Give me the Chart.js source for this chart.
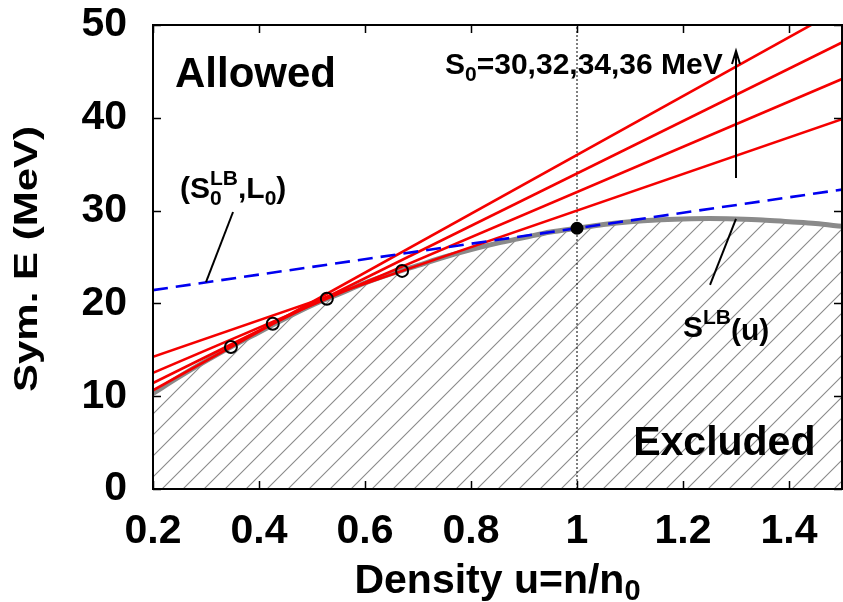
<!DOCTYPE html>
<html>
<head>
<meta charset="utf-8">
<script src="https://cdn.jsdelivr.net/npm/chart.js@4/dist/chart.umd.min.js"></script>
<style>
  html, body { margin: 0; padding: 0; background: #fff; }
  #wrap { width: 843px; height: 602px; position: relative; }
</style>
</head>
<body>
<div id="wrap"><canvas id="c" width="843" height="602"></canvas></div>
<script>
// Lower bound on the symmetry energy S^LB(u) versus density u = n/n0
const density = [0.20, 0.25, 0.30, 0.35, 0.40, 0.45, 0.50, 0.55, 0.60, 0.65, 0.70, 0.75, 0.80, 0.85,
                 0.90, 0.95, 1.00, 1.05, 1.10, 1.15, 1.20, 1.25, 1.30, 1.35, 1.40, 1.45, 1.50];
const symLB   = [10.3, 12.1, 13.8, 15.4, 16.9, 18.4, 19.8, 21.0, 22.2, 23.2, 24.1, 25.0, 25.8, 26.5,
                 27.1, 27.7, 28.1, 28.5, 28.8, 29.0, 29.1, 29.15, 29.1, 29.0, 28.8, 28.6, 28.3];

// Tangent points on S^LB(u) for each assumed S0 (MeV) at saturation density
const S0values = [36, 34, 32, 30];
const tangentU = [0.347, 0.426, 0.528, 0.670];
const tangentS = [15.3, 17.8, 20.5, 23.5];

// Bound at saturation: (S0^LB, L0)
const satU = 1.0;
const S0LB = 28.1;
const L0LB = 25.0;

// Axis ranges and tick labels
const xRange = [0.2, 1.5];
const yRange = [0, 50];
const xTickValues = [0.2, 0.4, 0.6, 0.8, 1.0, 1.2, 1.4];
const xTickLabels = ['0.2', '0.4', '0.6', '0.8', '1', '1.2', '1.4'];
const yTickValues = [0, 10, 20, 30, 40, 50];
const yTickLabels = ['0', '10', '20', '30', '40', '50'];

const FONT = "'Liberation Sans', Arial, sans-serif";

// Straight line through (u1, s1) and (u2, s2), evaluated over the full x range
function lineAcross(u1, s1, u2, s2) {
  const k = (s2 - s1) / (u2 - u1);
  return xRange.map(u => ({ x: u, y: s1 + k * (u - u1) }));
}

// Diagonal hatch used for the excluded region
function hatchPattern() {
  const n = 21;
  const cv = document.createElement('canvas');
  cv.width = n; cv.height = n;
  const g = cv.getContext('2d');
  g.strokeStyle = '#8a8a8a';
  g.lineWidth = 1.1;
  g.beginPath();
  g.moveTo(-2, n + 2); g.lineTo(n + 2, -2);
  g.moveTo(-2, 2); g.lineTo(2, -2);
  g.moveTo(n - 2, n + 2); g.lineTo(n + 2, n - 2);
  g.stroke();
  return document.getElementById('c').getContext('2d').createPattern(cv, 'repeat');
}

const curvePts = density.map((u, i) => ({ x: u, y: symLB[i] }));
const redSets = S0values.map((s0, i) => ({
  data: lineAcross(tangentU[i], tangentS[i], satU, s0),
  borderColor: 'rgb(245,0,0)', borderWidth: 2.6, pointRadius: 0, order: 3
}));

// Draws a run of text pieces; each piece: [text, size, dy, stackUnderPrevious?]
function drawRich(ctx, x, y, pieces) {
  let cx = x;
  let lastStart = x, lastEnd = x;
  pieces.forEach(p => {
    const [txt, size, dy, stack] = p;
    ctx.font = 'bold ' + size + 'px ' + FONT;
    const w = ctx.measureText(txt).width;
    if (stack) {
      ctx.fillText(txt, lastStart, y + dy);
      lastEnd = Math.max(lastEnd, lastStart + w);
      cx = lastEnd;
    } else {
      ctx.fillText(txt, cx, y + dy);
      lastStart = cx;
      cx += w;
      lastEnd = cx;
    }
  });
  return cx - x;
}
function measureRich(ctx, pieces) {
  let total = 0;
  pieces.forEach(p => {
    ctx.font = 'bold ' + p[1] + 'px ' + FONT;
    total += ctx.measureText(p[0]).width;
  });
  return total;
}

// Keep the plot frame exactly where the layout padding puts it
function noLabelOverflow(s) {
  s.paddingTop = 0; s.paddingBottom = 0; s.paddingLeft = 0; s.paddingRight = 0;
}

const overlay = {
  id: 'overlay',
  afterDatasetsDraw(chart) {
    const { ctx, chartArea: a, scales: { x, y } } = chart;
    ctx.save();
    ctx.strokeStyle = '#000';
    // inward tick marks on all four sides
    ctx.lineWidth = 1.5;
    ctx.beginPath();
    xTickValues.forEach(v => {
      const px = Math.round(x.getPixelForValue(v)) + 0.5;
      ctx.moveTo(px, a.bottom); ctx.lineTo(px, a.bottom - 8);
      ctx.moveTo(px, a.top); ctx.lineTo(px, a.top + 8);
    });
    yTickValues.forEach(v => {
      const py = Math.round(y.getPixelForValue(v)) + 0.5;
      ctx.moveTo(a.left, py); ctx.lineTo(a.left + 8, py);
      ctx.moveTo(a.right, py); ctx.lineTo(a.right - 8, py);
    });
    ctx.stroke();
    // frame
    ctx.lineWidth = 2;
    ctx.strokeRect(a.left, a.top, a.right - a.left, a.bottom - a.top);

    const P = (u, s) => [x.getPixelForValue(u), y.getPixelForValue(s)];
    ctx.fillStyle = '#000';
    ctx.textBaseline = 'alphabetic';
    ctx.textAlign = 'left';

    // region labels
    ctx.font = 'bold 42px ' + FONT;
    let [tx, ty] = P(0.2415, 43.3);
    ctx.fillText('Allowed', tx, ty);
    [tx, ty] = P(1.106, 3.66);
    ctx.font = 'bold 41px ' + FONT;
    ctx.fillText('Excluded', tx, ty);

    // S0 family label and arrow
    [tx, ty] = P(0.751, 44.7);
    drawRich(ctx, tx, ty, [['S', 30, 0], ['0', 21, 7], ['=30,32,34,36 MeV', 30, 0]]);
    const [ax, ay0] = P(1.30, 33.5);
    const [, ay1] = P(1.30, 47.2);
    ctx.lineWidth = 2;
    ctx.beginPath();
    ctx.moveTo(ax, ay0); ctx.lineTo(ax, ay1);
    ctx.moveTo(ax - 4, ay1 + 13); ctx.lineTo(ax, ay1); ctx.lineTo(ax + 4, ay1 + 13);
    ctx.stroke();

    // (S0^LB, L0) label with pointer
    [tx, ty] = P(0.251, 31.4);
    drawRich(ctx, tx, ty, [['(S', 30, 0], ['LB', 21, -13], ['0', 21, 7, true], [',L', 30, 0], ['0', 21, 7], [')', 30, 0]]);
    let [p1x, p1y] = P(0.351, 29.85);
    let [p2x, p2y] = P(0.300, 22.3);
    ctx.beginPath(); ctx.moveTo(p1x, p1y); ctx.lineTo(p2x, p2y); ctx.stroke();

    // S^LB(u) label with pointer
    [tx, ty] = P(1.200, 16.4);
    drawRich(ctx, tx, ty, [['S', 30, 0], ['LB', 21, -13], ['(u)', 30, 3]]);
    [p1x, p1y] = P(1.300, 29.1);
    [p2x, p2y] = P(1.251, 22.0);
    ctx.beginPath(); ctx.moveTo(p1x, p1y); ctx.lineTo(p2x, p2y); ctx.stroke();

    // axis titles
    const xt = [['Density u=n/n', 41, 0], ['0', 29, 7]];
    const wx = measureRich(ctx, xt);
    drawRich(ctx, (a.left + a.right) / 2 - wx / 2, 593, xt);

    ctx.save();
    ctx.translate(37, (a.top + a.bottom) / 2 + 2);
    ctx.rotate(-Math.PI / 2);
    ctx.scale(1, 0.8);
    ctx.font = 'bold 42px ' + FONT;
    ctx.textAlign = 'center';
    ctx.fillText('Sym. E (MeV)', 0, 0);
    ctx.restore();

    ctx.restore();
  }
};

new Chart(document.getElementById('c'), {
  type: 'line',
  data: {
    datasets: [
      { // tangent points
        data: tangentU.map((u, i) => ({ x: u, y: tangentS[i] })),
        showLine: false, pointRadius: 6, pointBorderWidth: 2,
        pointBorderColor: '#000', pointBackgroundColor: 'rgba(0,0,0,0)', order: 1
      },
      { // saturation point
        data: [{ x: satU, y: S0LB }],
        showLine: false, pointRadius: 6.5, pointBorderWidth: 0,
        pointBackgroundColor: '#000', order: 0
      },
      { // (S0^LB, L0) line
        data: lineAcross(satU, S0LB, satU + 1, S0LB + L0LB / 3),
        borderColor: 'rgb(0,0,240)', borderWidth: 2.6, borderDash: [15, 8],
        pointRadius: 0, order: 2
      },
      ...redSets,
      { // saturation density marker
        data: [{ x: satU, y: yRange[0] }, { x: satU, y: yRange[1] }],
        borderColor: '#000', borderWidth: 1, borderDash: [2, 2], pointRadius: 0, order: 4
      },
      { // lower bound S^LB(u), excluded region below
        data: curvePts,
        borderColor: '#8a8a8a', borderWidth: 5, pointRadius: 0,
        tension: 0.4, cubicInterpolationMode: 'monotone',
        fill: 'origin', backgroundColor: hatchPattern(), order: 5
      }
    ]
  },
  options: {
    responsive: false,
    animation: false,
    events: [],
    layout: { autoPadding: false, padding: { top: 25, right: 1, left: 0, bottom: 0 } },
    plugins: { legend: { display: false }, tooltip: { enabled: false } },
    scales: {
      x: {
        type: 'linear', min: xRange[0], max: xRange[1],
        afterBuildTicks: s => { s.ticks = xTickValues.map(v => ({ value: v })); },
        afterFit: s => { s.height = 113; noLabelOverflow(s); },
        grid: { display: false, drawTicks: false },
        border: { display: false },
        ticks: {
          padding: 18, color: '#000', maxRotation: 0, autoSkip: false,
          font: { family: FONT, size: 41, weight: 'bold' },
          callback: (v, i) => xTickLabels[i]
        }
      },
      y: {
        type: 'linear', min: yRange[0], max: yRange[1],
        afterBuildTicks: s => { s.ticks = yTickValues.map(v => ({ value: v })); },
        afterFit: s => { s.width = 153; noLabelOverflow(s); },
        grid: { display: false, drawTicks: false },
        border: { display: false },
        ticks: {
          padding: 26, color: '#000', autoSkip: false,
          font: { family: FONT, size: 41, weight: 'bold' },
          callback: (v, i) => yTickLabels[i]
        }
      }
    }
  },
  plugins: [overlay]
});
</script>
</body>
</html>
